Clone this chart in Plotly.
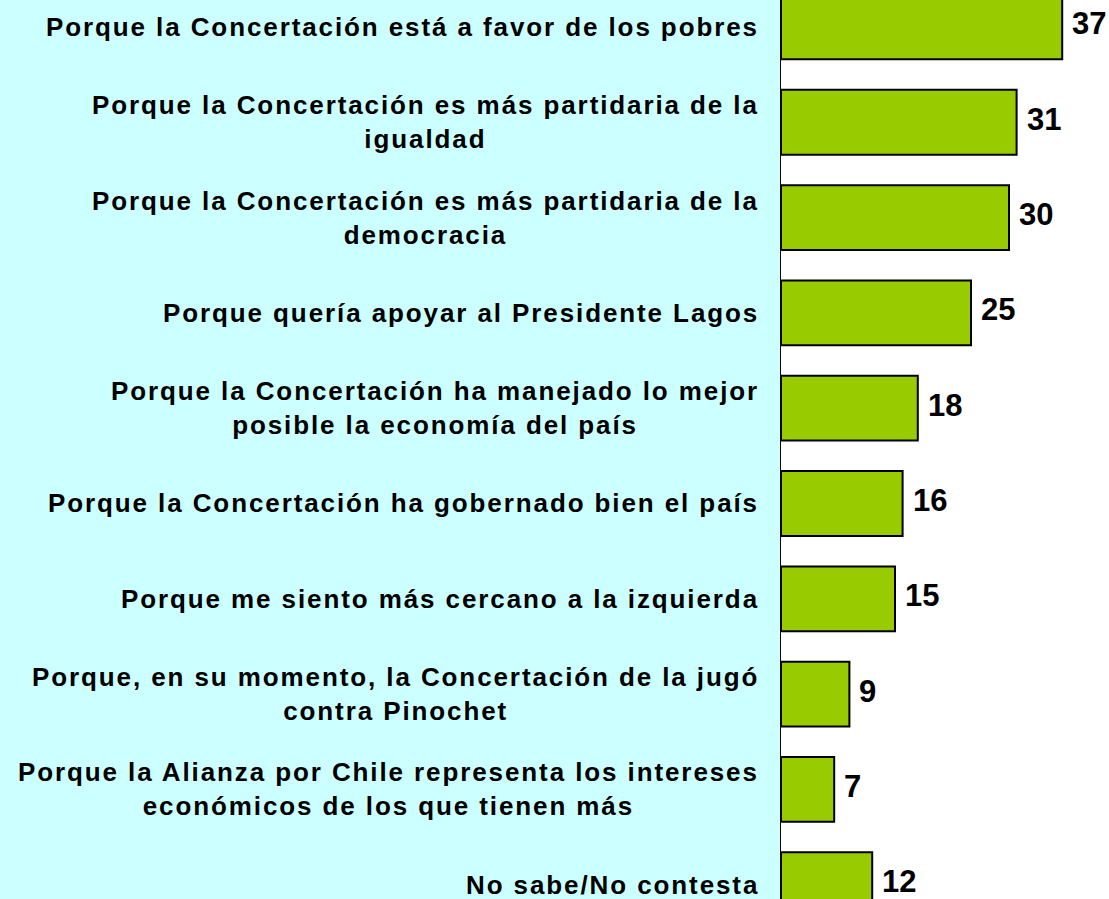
import plotly.graph_objects as go

categories = [
    "Porque la Concertación está a favor de los pobres",
    "Porque la Concertación es más partidaria de la<br>igualdad",
    "Porque la Concertación es más partidaria de la<br>democracia",
    "Porque quería apoyar al Presidente Lagos",
    "Porque la Concertación ha manejado lo mejor<br>posible la economía del país",
    "Porque la Concertación ha gobernado bien el país",
    "Porque me siento más cercano a la izquierda",
    "Porque, en su momento, la Concertación de la jugó<br>contra Pinochet",
    "Porque la Alianza por Chile representa los intereses<br>económicos de los que tienen más",
    "No sabe/No contesta",
]
values = [37, 31, 30, 25, 18, 16, 15, 9, 7, 12]

FONT = "Liberation Sans, Arial, sans-serif"
W, H = 1109, 899
L = 781

fig = go.Figure()
fig.add_trace(go.Bar(
    x=values, y=categories, orientation="h",
    width=0.68,
    marker=dict(color="#99CC00", line=dict(color="#000000", width=2)),
    hoverinfo="skip",
))

label_annots = []
value_annots = []
for cat, v in zip(categories, values):
    label_annots.append(dict(
        xref="paper", yref="y", x=(761 - L) / (W - L), y=cat,
        text=cat, showarrow=False, xanchor="right", yanchor="middle",
        align="center",
        font=dict(family=FONT, size=26, color="#000000", weight="bold"),
    ))
    value_annots.append(dict(
        xref="x", yref="y", x=v, y=cat, xshift=8, yshift=3,
        text=str(v), showarrow=False, xanchor="left", yanchor="middle",
        font=dict(family=FONT, size=31, color="#000000", weight="bold"),
    ))

fig.update_layout(
    width=W, height=H,
    margin=dict(l=L, r=0, t=0, b=0, pad=0),
    paper_bgcolor="#CCFFFF",
    plot_bgcolor="#FFFFFF",
    showlegend=False,
    hovermode=False,
    annotations=label_annots + value_annots,
    xaxis=dict(range=[0, (W - L) / 7.6], showgrid=False, zeroline=False,
               showticklabels=False, ticks="", showline=False, fixedrange=True),
    yaxis=dict(type="category", range=[9.15, -0.283], showgrid=False,
               zeroline=False, showticklabels=False, ticks="", fixedrange=True,
               showline=True, linecolor="#000000", linewidth=1.5),
)

n = len(categories)
post = """
var gd = document.getElementById('{plot_id}');
document.body.style.margin = '0';
var st = document.createElement('style');
st.textContent = 'text.annotation-text[style*="26px"] { letter-spacing: 1.9px; }';
document.head.appendChild(st);
var upd = {};
for (var j = 0; j < %d; j++) { upd['annotations[' + j + '].font.family'] = 'Liberation Sans, Arial'; }
Plotly.relayout(gd, upd);
""" % n

fig.write_html("out.html", post_script=post,
               config={"displayModeBar": False, "staticPlot": True})
